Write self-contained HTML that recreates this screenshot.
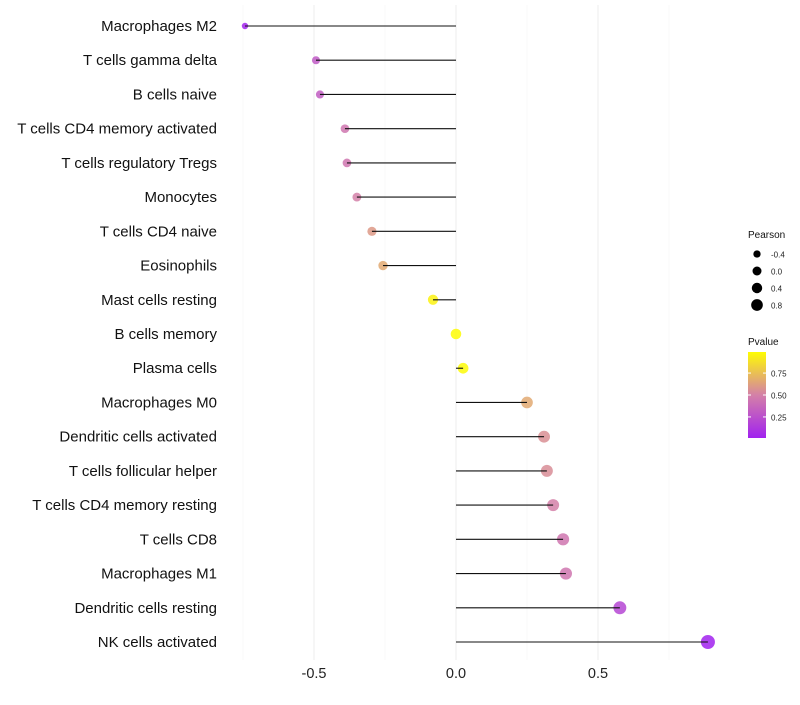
<!DOCTYPE html>
<html><head><meta charset="utf-8"><style>
body{margin:0;background:#fff;font-family:"Liberation Sans",sans-serif}
svg text{font-family:"Liberation Sans",sans-serif}
</style></head><body>
<svg id="c" width="800" height="700"></svg>
<script>
const categories=["Macrophages M2","T cells gamma delta","B cells naive","T cells CD4 memory activated","T cells regulatory  Tregs ","Monocytes","T cells CD4 naive","Eosinophils","Mast cells resting","B cells memory","Plasma cells","Macrophages M0","Dendritic cells activated","T cells follicular helper","T cells CD4 memory resting","T cells CD8","Macrophages M1","Dendritic cells resting","NK cells activated"];
const pearson=[-0.743,-0.493,-0.479,-0.391,-0.384,-0.349,-0.296,-0.257,-0.081,0.0,0.025,0.25,0.31,0.32,0.342,0.377,0.387,0.577,0.887];
const pvalue=[0.02,0.3,0.32,0.45,0.45,0.5,0.6,0.66,0.95,0.99,0.98,0.66,0.56,0.55,0.5,0.45,0.45,0.2,0.01];
const xTicks=[-0.5,0,0.5];
const xTickLabels=["-0.5","0.0","0.5"];
const sizeLegend=[-0.4,0.0,0.4,0.8];
const sizeLegendLabels=["-0.4","0.0","0.4","0.8"];
const colorTicks=[0.25,0.5,0.75];
const colorTickLabels=["0.25","0.50","0.75"];

const NS="http://www.w3.org/2000/svg";
const svg=document.getElementById('c');
const X=v=>456+v*284;
const Y=i=>26+i*(616/18);
const R=v=>Math.max(2,Math.sqrt(Math.max(0,28+24*v)));
function col(p){
  const stops=[[0,[160,32,240]],[0.5,[212,128,168]],[1,[255,255,0]]];
  let a=stops[0],b=stops[1];if(p>0.5){a=stops[1];b=stops[2];}
  const t=(p-a[0])/(b[0]-a[0]);
  return 'rgb('+a[1].map((c,k)=>Math.round(c+(b[1][k]-c)*t)).join(',')+')';
}
function el(tag,attrs,parent){const e=document.createElementNS(NS,tag);for(const k in attrs)e.setAttribute(k,attrs[k]);(parent||svg).appendChild(e);return e;}
const grid=el('g',{});


[-0.75,-0.25,0.25,0.75].forEach(v=>el('line',{x1:X(v),x2:X(v),y1:5,y2:660,stroke:'#f6f6f6','stroke-width':0.6},grid));
xTicks.forEach(v=>el('line',{x1:X(v),x2:X(v),y1:5,y2:660,stroke:'#eeeeee','stroke-width':1},grid));
xTicks.forEach((v,i)=>{const t=el('text',{x:X(v),y:678,'text-anchor':'middle','font-size':14.5,fill:'#222'});t.textContent=xTickLabels[i];

});
categories.forEach((c,i)=>{
  const t=el('text',{x:217,y:Y(i)+5,'text-anchor':'end','font-size':15,fill:'#111','xml:space':'preserve'});t.textContent=c;
  
  
  const p=el('circle',{cx:X(pearson[i]),cy:Y(i),r:R(pearson[i]),fill:col(pvalue[i]),'fill-opacity':0.85});
  
  
  const l=el('line',{x1:X(0),x2:X(pearson[i]),y1:Y(i),y2:Y(i),stroke:'#111','stroke-width':1.1});
  
  
});
const lg=el('g',{});


let t=el('text',{x:748,y:238,'font-size':10,fill:'#111'},lg);t.textContent='Pearson';
sizeLegend.forEach((v,i)=>{const y=254+i*17;el('circle',{cx:757,cy:y,r:R(v)*0.85,fill:'#000'},lg);
const tt=el('text',{x:771,y:y+3.5,'font-size':8,fill:'#222'},lg);tt.textContent=sizeLegendLabels[i];});
t=el('text',{x:748,y:345,'font-size':10,fill:'#111'},lg);t.textContent='Pvalue';
const defs=el('defs',{});const g=el('linearGradient',{id:'gr',x1:0,y1:1,x2:0,y2:0},defs);
[0,0.25,0.5,0.75,1].forEach(s=>el('stop',{offset:s,'stop-color':col(0.01+s*0.98)},g));
el('rect',{x:748,y:352,width:18,height:86,fill:'url(#gr)'},lg);
const CY=v=>438-(v-0.01)/0.98*86;
colorTicks.forEach((v,i)=>{el('line',{x1:748,x2:751,y1:CY(v),y2:CY(v),stroke:'#fff'},lg);el('line',{x1:763,x2:766,y1:CY(v),y2:CY(v),stroke:'#fff'},lg);
const tt=el('text',{x:771,y:CY(v)+3.5,'font-size':8,fill:'#222'},lg);tt.textContent=colorTickLabels[i];});
</script>
</body></html>
